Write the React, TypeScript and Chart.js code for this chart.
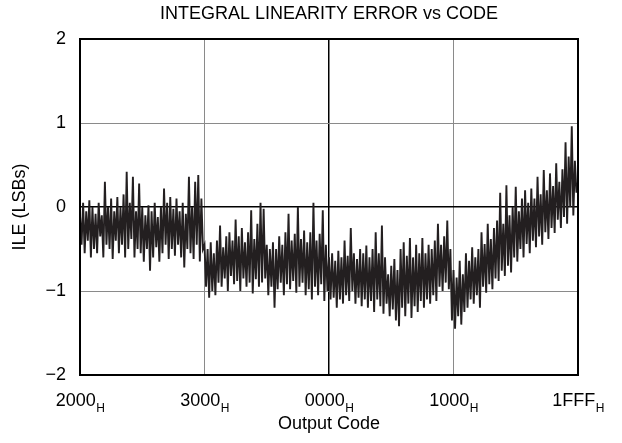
import React, { useEffect, useRef } from 'react';
import { Chart, registerables } from 'chart.js';

Chart.register(...registerables);

const titleText = 'INTEGRAL LINEARITY ERROR vs CODE';
const xAxisTitle = 'Output Code';
const yAxisTitle = 'ILE (LSBs)';

// x tick positions (code offset from 2000H) and labels
const xTickValues = [0, 2048, 4096, 6144, 8191];
const xTickLabels = ['2000', '3000', '0000', '1000', '1FFF'];
const xTickSubscript = 'H';
const yTickValues = [-2, -1, 0, 1, 2];

// ILE readings (LSBs), code range 2000H..2FFFH
const ile2000to3000 = [
  -0.1, -0.45, 0.05, -0.55, -0.05, -0.4, 0.08, -0.6, 0.0, -0.5,
  -0.08, -0.55, 0.05, -0.35, -0.1, -0.6, 0.3, -0.45, 0.0, -0.5,
  0.1, -0.62, -0.05, -0.4, 0.12, -0.55, 0.0, -0.45, 0.15, -0.6,
  0.42, -0.5, 0.05, -0.38, 0.36, -0.6, -0.05, -0.5, 0.28, -0.55,
  0.0, -0.65, -0.1, -0.5, 0.02, -0.76, -0.05, -0.6, 0.05, -0.48,
  -0.12, -0.65, 0.0, -0.55, 0.22, -0.45, 0.05, -0.62, 0.12, -0.5,
  -0.02, -0.58, 0.1, -0.45, -0.05, -0.6, 0.05, -0.72, -0.08, -0.5,
  0.36, -0.55, 0.0, -0.62, 0.3, -0.45, 0.38, -0.65, 0.1, -0.5,
];
// 3000H..3FFFH
const ile3000to0000 = [
  -0.45, -0.95, -0.5, -1.08, -0.42, -1.0, -0.55, -1.05, -0.4, -0.9,
  -0.22, -0.95, -0.48, -0.85, -0.35, -1.0, -0.3, -0.82, -0.4, -0.92,
  -0.15, -0.88, -0.35, -1.0, -0.25, -0.85, -0.42, -0.95, -0.3, -0.9,
  -0.04, -1.03, -0.38, -0.86, -0.2, -0.95, 0.05, -0.9, -0.02, -0.85,
  -0.45, -1.05, -0.5, -0.95, -0.42, -1.2, -0.5, -0.98, -0.35, -0.9,
  -0.45, -1.05, -0.3, -0.92, -0.08, -0.98, -0.4, -0.88, -0.32, -1.02,
  0.0, -0.95, -0.38, -0.9, -0.28, -1.05, -0.42, -0.98, -0.3, -1.1,
  0.05, -0.95, -0.4, -1.05, -0.32, -0.92, -0.04, -1.12, -0.45, -1.0,
];
// 0000H..0FFFH
const ile0000to1000 = [
  -0.6, -1.1, -0.55, -1.08, -0.64, -1.2, -0.52, -1.1, -0.6, -1.15,
  -0.4, -1.05, -0.58, -1.12, -0.25, -1.0, -0.55, -1.15, -0.62, -1.08,
  -0.5, -1.18, -0.55, -1.1, -0.46, -1.2, -0.6, -1.12, -0.5, -1.25,
  -0.3, -1.1, -0.55, -1.18, -0.22, -1.27, -0.6, -1.15, -0.8, -1.3,
  -0.7, -1.22, -0.62, -1.35, -0.75, -1.42, -0.5, -1.2, -0.42, -1.3,
  -0.58, -1.15, -0.37, -1.32, -0.6, -1.18, -0.45, -1.25, -0.55, -1.12,
  -0.37, -1.2, -0.55, -1.1, -0.45, -1.15, -0.5, -1.05, -0.4, -1.12,
  -0.2, -0.95, -0.45, -1.0, -0.35, -0.9, -0.16, -0.98, -0.5, -1.35,
];
// 1000H..1FFFH
const ile1000to1FFF = [
  -0.75, -1.45, -0.84, -1.3, -0.64, -1.4, -0.8, -1.25, -0.55, -1.2,
  -0.64, -1.1, -0.48, -1.15, -0.6, -1.05, -0.5, -1.2, -0.3, -0.95,
  -0.44, -1.02, -0.2, -0.92, -0.38, -0.98, -0.25, -0.85, -0.16, -0.88,
  0.17, -0.76, -0.2, -0.82, 0.26, -0.7, -0.1, -0.78, 0.0, -0.6,
  0.24, -0.65, -0.05, -0.5, 0.1, -0.6, 0.2, -0.44, 0.05, -0.55,
  0.22, -0.4, 0.1, -0.48, 0.36, -0.35, 0.15, -0.45, 0.44, -0.3,
  0.2, -0.38, 0.4, -0.25, 0.25, -0.31, 0.52, -0.15, 0.3, -0.25,
  0.45, -0.12, 0.77, -0.2, 0.6, 0.0, 0.96, -0.1, 0.55, 0.17,
  0.3,
];

const FONT = '"Liberation Sans", Arial, Helvetica, sans-serif';

const overlayPlugin = {
  id: 'overlay',
  afterDraw(chart: any) {
    const { ctx, chartArea: a, scales } = chart;
    ctx.save();
    ctx.strokeStyle = '#000';
    ctx.lineWidth = 2;
    ctx.strokeRect(a.left, a.top, a.right - a.left, a.bottom - a.top);

    ctx.fillStyle = '#000';
    ctx.textBaseline = 'middle';
    ctx.textAlign = 'center';
    ctx.font = `18px ${FONT}`;
    ctx.fillText(titleText, (a.left + a.right) / 2, 14);

    xTickValues.forEach((v, i) => {
      const x = scales.x.getPixelForValue(v);
      ctx.font = `18px ${FONT}`;
      const w1 = ctx.measureText(xTickLabels[i]).width;
      ctx.font = `12px ${FONT}`;
      const w2 = ctx.measureText(xTickSubscript).width;
      const start = x - (w1 + w2) / 2;
      ctx.textAlign = 'left';
      ctx.font = `18px ${FONT}`;
      ctx.fillText(xTickLabels[i], start, 401);
      ctx.font = `12px ${FONT}`;
      ctx.fillText(xTickSubscript, start + w1 + 0.5, 409);
    });

    ctx.textAlign = 'center';
    ctx.font = `18px ${FONT}`;
    ctx.fillText(xAxisTitle, (a.left + a.right) / 2, 424);
    ctx.restore();
  },
};

export default function App() {
  const canvasRef = useRef<HTMLCanvasElement | null>(null);

  useEffect(() => {
    const all = [...ile2000to3000, ...ile3000to0000, ...ile0000to1000, ...ile1000to1FFF];
    const n = all.length;
    const points = all.map((y, i) => ({ x: (i * 8191) / (n - 1), y }));

    const chart = new Chart(canvasRef.current as HTMLCanvasElement, {
      type: 'line',
      data: {
        datasets: [
          {
            data: points,
            borderColor: '#231f20',
            borderWidth: 1.9,
            pointRadius: 0,
            tension: 0,
            fill: false,
          },
        ],
      },
      options: {
        animation: false,
        responsive: true,
        maintainAspectRatio: false,
        events: [],
        layout: { padding: { top: 39, right: 44, bottom: 0, left: 0 } },
        plugins: {
          legend: { display: false },
          title: { display: false },
          tooltip: { enabled: false },
        },
        scales: {
          x: {
            type: 'linear',
            min: 0,
            max: 8191,
            afterBuildTicks: (scale: any) => {
              scale.ticks = xTickValues.map((v) => ({ value: v }));
            },
            afterFit: (scale: any) => {
              scale.height = 68;
            },
            ticks: { display: false },
            border: { display: false },
            grid: {
              drawTicks: false,
              color: (c: any) => (c.tick && c.tick.value === 4096 ? '#000' : '#8a8a8a'),
              lineWidth: (c: any) => (c.tick && c.tick.value === 4096 ? 1.5 : 1),
            },
          },
          y: {
            min: -2,
            max: 2,
            afterBuildTicks: (scale: any) => {
              scale.ticks = yTickValues.map((v) => ({ value: v }));
            },
            afterFit: (scale: any) => {
              scale.width = 80;
            },
            ticks: {
              color: '#000',
              padding: 14,
              font: { family: FONT, size: 18 },
              callback: (v: any) => (Number(v) < 0 ? '\u2212' + Math.abs(Number(v)) : String(v)),
            },
            border: { display: false },
            grid: {
              drawTicks: false,
              color: (c: any) => (c.tick && c.tick.value === 0 ? '#000' : '#8a8a8a'),
              lineWidth: (c: any) => (c.tick && c.tick.value === 0 ? 1.5 : 1),
            },
            title: {
              display: true,
              text: yAxisTitle,
              color: '#000',
              font: { family: FONT, size: 18 },
              padding: { top: 9, bottom: 0 },
            },
          },
        },
      },
      plugins: [overlayPlugin],
    } as any);

    return () => chart.destroy();
  }, []);

  return (
    <div style={{ position: 'fixed', left: 0, top: 0, width: 622, height: 443 }}>
      <canvas ref={canvasRef} />
    </div>
  );
}
